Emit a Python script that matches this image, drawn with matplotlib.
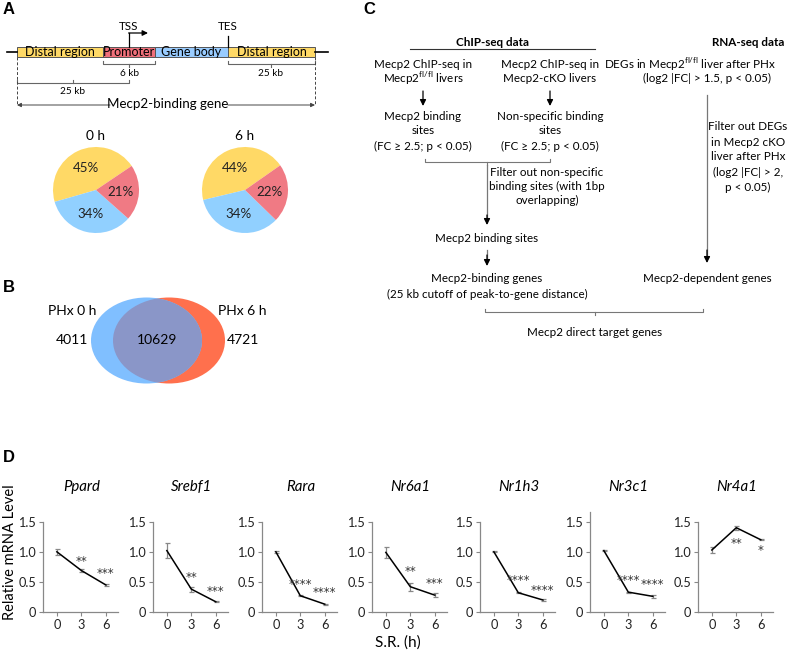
import matplotlib
matplotlib.use("Agg")
import matplotlib.pyplot as plt
from matplotlib.patches import Rectangle, Ellipse
import numpy as np

plt.rcParams['font.family'] = ['Lato', 'DejaVu Sans']

# ---------------- data ----------------
pie_titles = ["0 h", "6 h"]
pie_0h = [45, 34, 21]
pie_6h = [44, 34, 22]
pie_colors = ["#FFD966", "#91D0FF", "#F07A84"]

venn_labels = ["PHx 0 h", "PHx 6 h"]
venn_only0 = 4011
venn_both = 10629
venn_only6 = 4721

genes = ["Ppard", "Srebf1", "Rara", "Nr6a1", "Nr1h3", "Nr3c1", "Nr4a1"]
times = [0, 3, 6]
means = [
    [1.00, 0.69, 0.45],
    [1.02, 0.38, 0.17],
    [1.00, 0.27, 0.13],
    [0.99, 0.42, 0.28],
    [1.00, 0.32, 0.20],
    [1.02, 0.33, 0.26],
    [1.03, 1.40, 1.20],
]
errs = [
    [0.05, 0.03, 0.02],
    [0.13, 0.04, 0.01],
    [0.02, 0.01, 0.01],
    [0.09, 0.07, 0.03],
    [0.01, 0.01, 0.01],
    [0.01, 0.01, 0.02],
    [0.05, 0.03, 0.01],
]
stars = [
    ["**", "***"],
    ["**", "***"],
    ["****", "****"],
    ["**", "***"],
    ["****", "****"],
    ["****", "****"],
    ["**", "*"],
]
star_y = [
    [0.84, 0.64],
    [0.58, 0.34],
    [0.46, 0.33],
    [0.67, 0.47],
    [0.52, 0.36],
    [0.52, 0.45],
    [1.14, 1.02],
]
yticks = [0, 0.5, 1.0, 1.5]
ytick_labels = ["0", "0.5", "1.0", "1.5"]

W, H = 787, 651
fig = plt.figure(figsize=(W / 100, H / 100), dpi=100)

# overlay axes in pixel coordinates
ax0 = fig.add_axes([0, 0, 1, 1])
ax0.set_xlim(0, W)
ax0.set_ylim(H, 0)
ax0.axis("off")

FS = 8.4
plab = dict(fontsize=12, fontweight="bold", family="Liberation Sans", ha="left", va="center")
ax0.text(3, 10, "A", **plab)
ax0.text(3, 288, "B", **plab)
ax0.text(363, 10, "C", **plab)
ax0.text(3, 457, "D", **plab)

# ---------------- Panel A: gene diagram ----------------
yb, hb = 47, 10
ax0.plot([7, 17], [52, 52], color="black", lw=1.2)
ax0.plot([315, 328], [52, 52], color="black", lw=1.2)
segs = [(17, 103, "#FFD966", "Distal region"),
        (103, 155, "#F0707A", "Promoter"),
        (155, 228, "#99CCFF", "Gene body"),
        (228, 315, "#FFD966", "Distal region")]
for x1, x2, c, t in segs:
    ax0.add_patch(Rectangle((x1, yb), x2 - x1, hb, facecolor=c, edgecolor="#555555", lw=0.7))
    ax0.text((x1 + x2) / 2, yb + hb / 2 + 0.5, t, ha="center", va="center", fontsize=FS + 0.6)
# TSS arrow
ax0.plot([129, 129], [yb, 33], color="black", lw=0.9)
ax0.annotate("", xy=(148, 33), xytext=(128.6, 33),
             arrowprops=dict(arrowstyle="-|>", color="black", lw=0.9, mutation_scale=8, shrinkA=0, shrinkB=0))
ax0.text(129, 26, "TSS", ha="center", va="center", fontsize=FS)
# TES line
ax0.plot([228, 228], [36, yb], color="black", lw=0.9)
ax0.text(228, 26, "TES", ha="center", va="center", fontsize=FS)

def bracket(x1, x2, y, end_dir, tick_x, tick_dir, col="#666666", lw=0.8, e=3, t=3):
    ax0.plot([x1, x1, x2, x2], [y + end_dir * e, y, y, y + end_dir * e], color=col, lw=lw)
    ax0.plot([tick_x, tick_x], [y, y + tick_dir * t], color=col, lw=lw)

bracket(103, 155, 64, -1, 129, 1)
ax0.text(129, 73, "6 kb", ha="center", va="center", fontsize=FS - 1.2)
bracket(228, 315, 64, -1, 271, 1)
ax0.text(271, 73, "25 kb", ha="center", va="center", fontsize=FS - 1.2)
bracket(17, 129, 83, -1, 73, -1)
ax0.text(73, 91, "25 kb", ha="center", va="center", fontsize=FS - 1.2)
# dashed verticals
ax0.plot([17, 17], [yb + hb, 105], color="#444444", lw=0.7, ls=(0, (3, 2)))
ax0.plot([315, 315], [yb + hb, 105], color="#444444", lw=0.7, ls=(0, (3, 2)))
for xs, xe in [(110, 17), (228, 315)]:
    ax0.annotate("", xy=(xe, 105), xytext=(xs, 105),
                 arrowprops=dict(arrowstyle="-|>", color="#444444", lw=0.7, mutation_scale=6, shrinkA=0, shrinkB=0))
ax0.text(168, 104, "Mecp2-binding gene", ha="center", va="center", fontsize=FS + 1.2)

# pies
for cx, title, vals, sa in [(96, pie_titles[0], pie_0h, 34), (245, pie_titles[1], pie_6h, 35)]:
    r = 43
    axp = fig.add_axes([(cx - r) / W, (H - 190 - r) / H, 2 * r / W, 2 * r / H])
    axp.pie(vals, colors=pie_colors, startangle=sa, counterclock=True,
            autopct=lambda p: f"{p:.0f}%", pctdistance=0.57,
            textprops=dict(fontsize=9.6, color="#222222"),
            wedgeprops=dict(linewidth=0))
    axp.set_xlim(-1, 1)
    axp.set_ylim(-1, 1)
    axp.set_aspect("equal")
    ax0.text(cx, 136, title, ha="center", va="center", fontsize=FS + 1.5)

# ---------------- Panel B: Venn ----------------
e_blue = Ellipse((146.5, 340.5), 111, 86, facecolor="#80BFFF", edgecolor="none")
e_red = Ellipse((169, 340.5), 112, 86, facecolor="#FF704D", edgecolor="none")
ax0.add_patch(e_red)
ax0.add_patch(e_blue)
e_ov = Ellipse((146.5, 340.5), 111, 86, facecolor="#8A96C8", edgecolor="none")
ax0.add_patch(e_ov)
e_ov.set_clip_path(e_red)
vfs = 10
ax0.text(72, 311, venn_labels[0], ha="center", va="center", fontsize=vfs)
ax0.text(242, 311, venn_labels[1], ha="center", va="center", fontsize=vfs)
ax0.text(72, 340, str(venn_only0), ha="center", va="center", fontsize=vfs)
ax0.text(157, 340, str(venn_both), ha="center", va="center", fontsize=vfs)
ax0.text(243, 340, str(venn_only6), ha="center", va="center", fontsize=vfs)

# ---------------- Panel C: flowchart ----------------
def t(x, y, s, **kw):
    ax0.text(x, y, s, ha=kw.pop("ha", "center"), va="center", fontsize=kw.pop("fontsize", FS), **kw)

def arrow(x, y1, y2):
    ax0.annotate("", xy=(x, y2), xytext=(x, y1),
                 arrowprops=dict(arrowstyle="-|>", color="black", lw=0.9, mutation_scale=9, shrinkA=0, shrinkB=0))

t(492, 42, "ChIP-seq data", fontweight="bold")
ax0.plot([410, 595], [49, 49], color="#333333", lw=0.8)
t(748, 42, "RNA-seq data", fontweight="bold")

t(423, 64, "Mecp2 ChIP-seq in")
t(423, 78, r"Mecp2$^{\mathregular{fl/fl}}$ livers")
t(550, 64, "Mecp2 ChIP-seq in")
t(550, 78, "Mecp2-cKO livers")
arrow(423, 91, 106)
arrow(550, 91, 106)
t(423, 117, "Mecp2 binding")
t(423, 131, "sites")
t(423, 146, "(FC ≥ 2.5; p < 0.05)")
t(550, 117, "Non-specific binding")
t(550, 131, "sites")
t(550, 146, "(FC ≥ 2.5; p < 0.05)")
bracket(425, 550, 162, -1, 487, 1, col="#777777")
ax0.plot([487, 487], [165, 222], color="#777777", lw=0.9)
arrow(487, 215, 225)
t(547, 172, "Filter out non-specific")
t(547, 186, "binding sites (with 1bp")
t(547, 200, "overlapping)")
t(487, 239, "Mecp2 binding sites")
ax0.plot([487, 487], [250, 258], color="#777777", lw=0.9)
arrow(487, 255, 266)
t(487, 279, "Mecp2-binding genes")
t(487, 294, "(25 kb cutoff of peak-to-gene distance)")
bracket(485, 703, 312, -1, 595, 1, col="#777777")
t(595, 332, "Mecp2 direct target genes")

t(690, 64, r"DEGs in Mecp2$^{\mathregular{fl/fl}}$ liver after PHx")
t(707, 78, "(log2 |FC| > 1.5, p < 0.05)")
ax0.plot([707, 707], [95, 255], color="#777777", lw=0.9)
arrow(707, 250, 263)
t(748, 127, "Filter out DEGs")
t(748, 142, "in Mecp2 cKO")
t(748, 157, "liver after PHx")
t(748, 172, "(log2 |FC| > 2,")
t(748, 187, "p < 0.05)")
t(707, 279, "Mecp2-dependent genes")

# ---------------- Panel D ----------------
lefts = [43, 153, 262, 372, 480, 590, 698]
aw = 75
y0px = 612
px_per_unit = (612 - 521.7) / 1.5
ytop = [1.5, 1.5, 1.5, 1.5, 1.5, 1.66, 1.5]
for i, g in enumerate(genes):
    hpx = ytop[i] * px_per_unit
    ax = fig.add_axes([lefts[i] / W, (H - y0px) / H, aw / W, hpx / H])
    ax.errorbar(times, means[i], yerr=errs[i], color="black", lw=1.1,
                ecolor="#888888", elinewidth=0.9, capsize=1.8, capthick=0.9)
    for j, s in enumerate(stars[i]):
        ax.text(times[j + 1], star_y[i][j], s, ha="center", va="center",
                fontsize=8.5, color="#333333", family="DejaVu Sans")
    ax.set_xlim(-1.7, 7.5)
    ax.set_ylim(0, ytop[i])
    ax.set_xticks(times)
    ax.set_yticks(yticks)
    ax.set_yticklabels(ytick_labels)
    for sp in ["top", "right"]:
        ax.spines[sp].set_visible(False)
    for sp in ["left", "bottom"]:
        ax.spines[sp].set_color("#888888")
        ax.spines[sp].set_linewidth(0.9)
    ax.tick_params(axis="both", colors="#888888", labelcolor="#222222", labelsize=9.2,
                   length=3, width=0.8, pad=2)
    ax.set_facecolor("none")
    ax0.text(lefts[i] + aw / 2 + 1, 487, g, ha="center", va="center",
             fontsize=10.8, fontstyle="italic")

ax0.text(10, 552, "Relative mRNA Level", rotation=90, ha="center", va="center", fontsize=10.5)
ax0.text(398, 643, "S.R. (h)", ha="center", va="center", fontsize=11)

fig.savefig("out.png", dpi=100)
